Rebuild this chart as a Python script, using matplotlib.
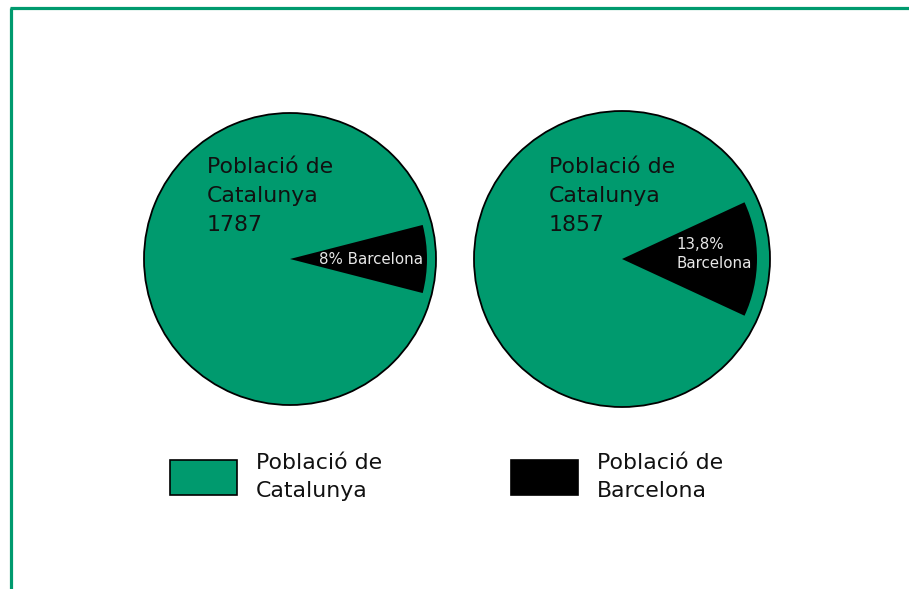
import matplotlib
matplotlib.use("Agg")
import matplotlib.pyplot as plt
from matplotlib.patches import Rectangle

years = ["1787", "1857"]
barcelona_pct = [8.0, 13.8]
wedge_labels = ["8% Barcelona", "13,8%\nBarcelona"]
legend_labels = ["Població de\nCatalunya", "Població de\nBarcelona"]

GREEN = "#009A6E"
W, H = 909, 589

fig = plt.figure(figsize=(W / 100, H / 100), dpi=100)
ax = fig.add_axes([0, 0, 1, 1])
ax.set_xlim(0, W)
ax.set_ylim(0, H)
ax.axis("off")

def py(y):
    return H - y

centers = [(290, 259), (622, 259)]
radii = [146, 148]
inner = [137, 135]
title_pos = [(207, 196), (549, 196)]
label_pos = [(371, 259), (676, 254)]

for i in range(2):
    cx, cy = centers[i]
    ax.pie([100], center=(cx, py(cy)), radius=radii[i], colors=[GREEN],
           wedgeprops=dict(edgecolor="black", linewidth=1.3))
    b = barcelona_pct[i]
    ax.pie([b, 100 - b], center=(cx, py(cy)), radius=inner[i],
           colors=["black", "none"], startangle=-b * 360 / 200,
           counterclock=True, wedgeprops=dict(linewidth=0))
    tx, ty = title_pos[i]
    ax.text(tx, py(ty), "Població de\nCatalunya\n" + years[i], fontsize=15.8,
            color="#111111", ha="left", va="center", linespacing=1.58)
    lx, ly = label_pos[i]
    if i == 0:
        ax.text(lx, py(ly), wedge_labels[i], fontsize=10.8, color="#e8e8e8",
                ha="center", va="center")
    else:
        ax.text(lx, py(ly), wedge_labels[i], fontsize=10.8, color="#e8e8e8",
                ha="left", va="center", linespacing=1.4)

ax.set_xlim(0, W)
ax.set_ylim(0, H)
ax.set_aspect("auto")

# legend
leg_rects = [(170, 460), (511, 460)]
leg_colors = [GREEN, "black"]
leg_text = [(256, 477), (597, 477)]
for i in range(2):
    x0, y0 = leg_rects[i]
    ax.add_patch(Rectangle((x0, py(y0 + 35)), 67, 35, facecolor=leg_colors[i],
                           edgecolor="black", linewidth=1.2))
    tx, ty = leg_text[i]
    ax.text(tx, py(ty), legend_labels[i], fontsize=15.8, color="#111111",
            ha="left", va="center", linespacing=1.5)

# frame
ax.plot([10, W], [py(7.5), py(7.5)], color=GREEN, linewidth=2.3, solid_capstyle="butt")
ax.plot([10.5, 10.5], [py(7.5), 0], color=GREEN, linewidth=2.3, solid_capstyle="butt")

fig.savefig("out.png", dpi=100)
